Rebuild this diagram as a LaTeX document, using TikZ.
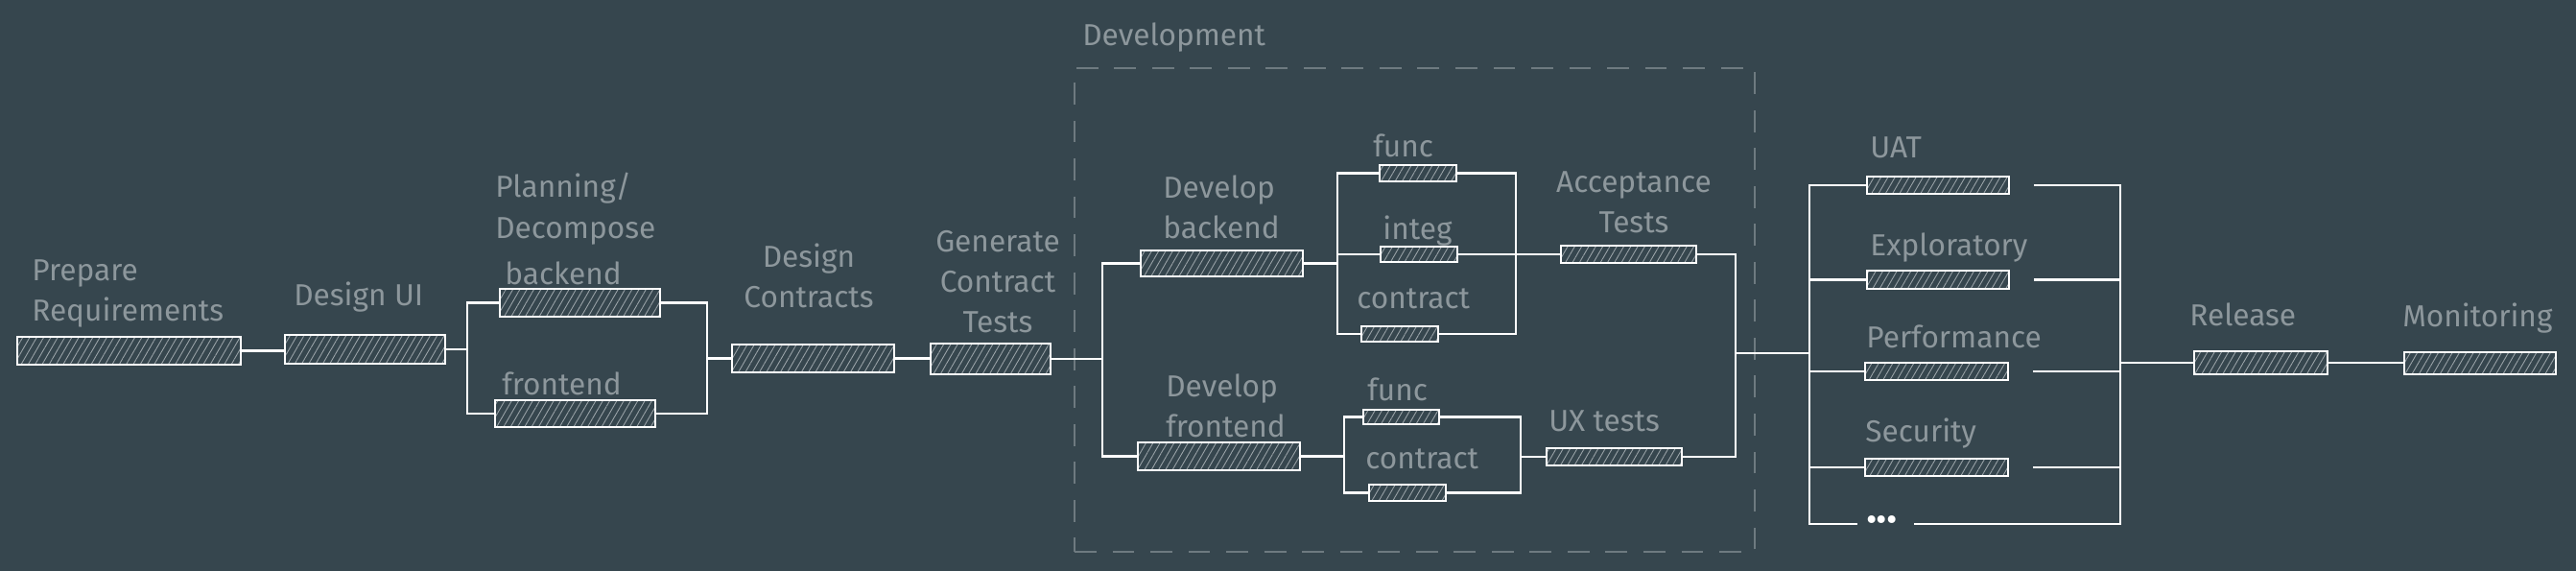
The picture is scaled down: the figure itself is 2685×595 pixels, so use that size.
\documentclass[tikz,border=0pt]{standalone}
\usepackage{fontspec}
\setmainfont{Fira Sans}
\usetikzlibrary{patterns.meta}
\definecolor{bgcol}{HTML}{36464E}
\definecolor{txtcol}{HTML}{8D979C}
\definecolor{hatchcol}{HTML}{9AA3A8}
\definecolor{dashcol}{HTML}{6E7A80}
\tikzset{
  taskbar/.style={draw=white, line width=1.4pt, inner sep=0pt,
    pattern={Lines[angle=60,distance=3.6pt,line width=0.5pt]}, pattern color=hatchcol},
  groupbox/.style={draw=dashcol, line width=1.4pt, dash pattern=on 13pt off 9.5pt, inner sep=0pt},
  conn/.style={draw=white, line width=1.4pt},
  lbl/.style={text=txtcol, font=\fontsize{18}{24}\selectfont, inner sep=0pt, anchor=north west, align=left},
  lblc/.style={lbl, anchor=north, align=center},
  dotsnode/.style={text=white, font=\fontsize{20}{24}\selectfont, inner sep=1pt, anchor=west}
}
\newcommand\mkbox[6][taskbar]{\node[#1, minimum width={(#5-#3)*0.02cm}, minimum height={(#6-#4)*0.02cm}] (#2) at ({(#3+#5)/2},{(#4+#6)/2}) {};}
\begin{document}
\begin{tikzpicture}[x=0.02cm, y=-0.02cm]
\fill[bgcol] (0,0) rectangle (2685,595);
% group frame
\mkbox[groupbox]{devbox}{1120}{71}{1829}{575}
% bars
\mkbox{prep}{18}{351}{251}{380}
\mkbox{dui}{297}{349}{464}{379}
\mkbox{pbe}{521}{301}{688}{330}
\mkbox{pfe}{516}{417}{683}{445}
\mkbox{dc}{763}{359}{932}{388}
\mkbox{gct}{970}{358}{1095}{390}
\mkbox{dbe}{1189}{261}{1358}{288}
\mkbox{dfe}{1186}{461}{1355}{490}
\mkbox{bfunc}{1438}{172}{1518}{189}
\mkbox{binteg}{1439}{257}{1519}{273}
\mkbox{bcontract}{1419}{340}{1499}{356}
\mkbox{ffunc}{1421}{427}{1500}{442}
\mkbox{fcontract}{1427}{505}{1507}{522}
\mkbox{acc}{1627}{256}{1768}{274}
\mkbox{ux}{1612}{467}{1753}{485}
\mkbox{uat}{1946}{184}{2094}{202}
\mkbox{expl}{1946}{282}{2094}{301}
\mkbox{perf}{1944}{378}{2093}{396}
\mkbox{sec}{1944}{478}{2093}{496}
\mkbox{rel}{2287}{366}{2426}{390}
\mkbox{mon}{2506}{367}{2664}{390}
\node[dotsnode] (dots) at (1943,546) {•\kern-0.3pt•\kern-0.3pt•};
% labels
\node[lbl] (lprep) at (33,270) {Prepare\\Requirements};
\node[lbl] (ldui) at (306,293) {Design UI};
\node[lbl] (lplan) at (516,180) {Planning/\\Decompose};
\node[lbl] (lpbe) at (526,272) {backend};
\node[lbl] (lpfe) at (523,387) {frontend};
\node[lblc] (ldc) at (843,253) {Design\\Contracts};
\node[lblc] (lgct) at (1040,240) {Generate\\Contract\\Tests};
\node[lbl] (ldev) at (1128,23) {Development};
\node[lbl] (ldbe) at (1212,182) {Develop\\backend};
\node[lbl] (ldfe) at (1215,389) {Develop\\frontend};
\node[lbl] (lbfunc) at (1431,139) {func};
\node[lbl] (lbinteg) at (1441,224) {integ};
\node[lbl] (lbcontract) at (1414,300) {contract};
\node[lblc] (lacc) at (1703,178) {Acceptance\\Tests};
\node[lbl] (lffunc) at (1425,393) {func};
\node[lbl] (lfcontract) at (1423,467) {contract};
\node[lbl] (lux) at (1614,427) {UX tests};
\node[lbl] (luat) at (1949,142) {UAT};
\node[lbl] (lexpl) at (1949,242) {Exploratory};
\node[lbl] (lperf) at (1945,338) {Performance};
\node[lbl] (lsec) at (1944,435) {Security};
\node[lbl] (lrel) at (2282,315) {Release};
\node[lbl] (lmon) at (2504,315) {Monitoring};
% connectors
\draw[conn] (prep.east) -- (prep.east -| dui.west);
\coordinate (br1) at (487,0 |- dui.east);
\draw[conn] (dui.east) -- (br1);
\draw[conn] (pbe.west) -| (br1) |- (pfe.west);
\coordinate (br2) at (737,0 |- dc.west);
\draw[conn] (pbe.east) -| (br2) |- (pfe.east);
\draw[conn] (br2) -- (dc.west);
\draw[conn] (dc.east) -- (dc.east -| gct.west);
\coordinate (br3) at (1149,0 |- gct.east);
\draw[conn] (gct.east) -- (br3);
\draw[conn] (dbe.west) -| (br3) |- (dfe.west);
\coordinate (br4) at (1394,0 |- dbe.east);
\draw[conn] (dbe.east) -- (br4);
\draw[conn] (bfunc.west) -| (br4) |- (bcontract.west);
\draw[conn] (binteg.west) -| (br4);
\coordinate (br5) at (1580,0 |- acc.west);
\draw[conn] (bfunc.east) -| (br5) |- (bcontract.east);
\draw[conn] (binteg.east) -| (br5);
\draw[conn] (br5) -- (acc.west);
\coordinate (br6) at (1401,0 |- dfe.east);
\draw[conn] (dfe.east) -- (br6);
\draw[conn] (ffunc.west) -| (br6) |- (fcontract.west);
\coordinate (br7) at (1585,0 |- ux.west);
\draw[conn] (ffunc.east) -| (br7) |- (fcontract.east);
\draw[conn] (br7) -- (ux.west);
\coordinate (br8) at (1809,368);
\draw[conn] (acc.east) -| (br8) |- (ux.east);
\coordinate (br9) at (1886,368);
\draw[conn] (br8) -- (br9);
\draw[conn, shorten >=4pt] (uat.west) -| (br9) |- (dots.west);
\draw[conn] (expl.west) -| (br9);
\draw[conn] (perf.west) -| (br9);
\draw[conn] (sec.west) -| (br9);
\coordinate (br10) at (2210,0 |- rel.west);
\draw[conn, shorten <=0.5cm] (uat.east) -| (br10);
\draw[conn, shorten <=0.5cm] (expl.east) -| (br10);
\draw[conn, shorten <=0.5cm] (perf.east) -| (br10);
\draw[conn, shorten <=0.5cm] (sec.east) -| (br10);
\draw[conn, shorten <=0.3cm] (dots.east) -| (br10);
\draw[conn] (br10) -- (rel.west);
\draw[conn] (rel.east) -- (rel.east -| mon.west);
\end{tikzpicture}
\end{document}
